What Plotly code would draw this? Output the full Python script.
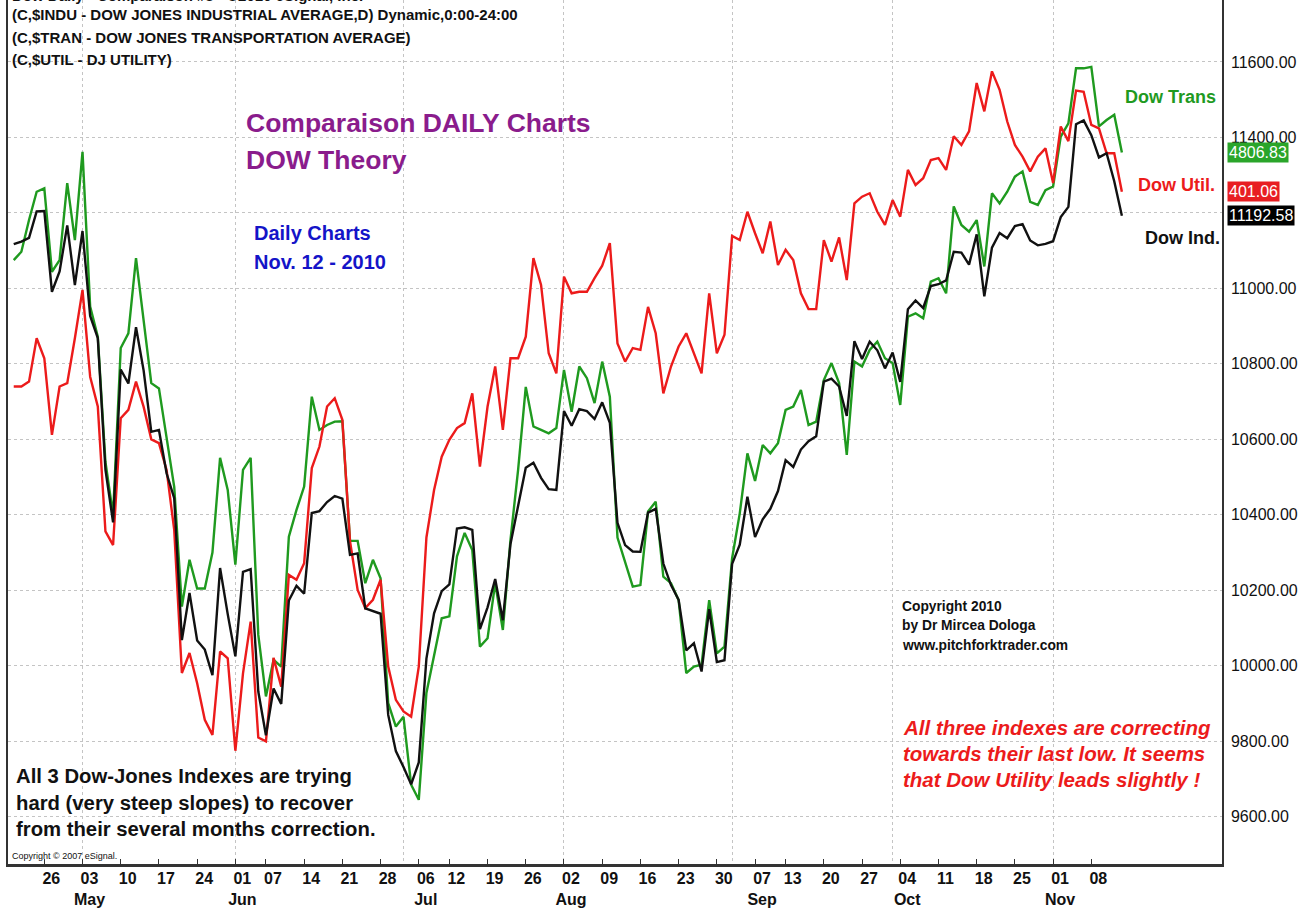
import plotly.graph_objects as go
import pandas as pd

# ─── COLOURS ──────────────────────────────────────────────────
INK = "#111111"
GREEN = "#1F9A1F"
RED = "#EC1B1B"
PURPLE = "#8A1C8C"
BLUE = "#1414C8"
GRID = "#C4C4C4"
FONT = "Liberation Sans, Arial, sans-serif"

# ─── DATA ─────────────────────────────────────────────────────
# NYSE sessions 20 Apr - 12 Nov 2010
HOLIDAYS = ["2010-05-31", "2010-07-05", "2010-09-06"]
SESSIONS = [d for d in pd.bdate_range("2010-04-20", "2010-11-12")
            if d.strftime("%Y-%m-%d") not in HOLIDAYS]

# closes, all on the $INDU price scale (comparison overlay)
DOW_IND = [
    11117, 11124, 11134, 11204, 11205, 10991, 11045, 11167, 11009, 11152,
    10927, 10868, 10520, 10380, 10785, 10748, 10897, 10782, 10620, 10625,
    10510, 10444, 10068, 10193, 10067, 10043, 9975, 10259, 10137, 10025,
    10249, 10256, 9932, 9816, 9940, 9899, 10173, 10212, 10191, 10405,
    10410, 10434, 10450, 10443, 10294, 10298, 10152, 10144, 10138, 9870,
    9774, 9732, 9686, 9744, 10019, 10139, 10198, 10216, 10364, 10367,
    10360, 10097, 10155, 10230, 10121, 10323, 10425, 10525, 10538, 10498,
    10468, 10466, 10675, 10636, 10680, 10675, 10654, 10698, 10644, 10379,
    10320, 10303, 10302, 10406, 10416, 10271, 10214, 10175, 10041, 10060,
    9985, 10150, 10010, 10015, 10270, 10321, 10448, 10341, 10388, 10416,
    10463, 10545, 10527, 10573, 10595, 10608, 10753, 10761, 10740, 10662,
    10860, 10813, 10859, 10836, 10788, 10830, 10752, 10945, 10968, 10948,
    11006, 11011, 11021, 11097, 11095, 11063, 11143, 10979, 11108, 11147,
    11133, 11165, 11170, 11127, 11114, 11118, 11125, 11189, 11216, 11435,
    11445, 11406, 11347, 11358, 11284, 11192.58,
]
DOW_TRANS = [
    11075, 11097, 11181, 11256, 11265, 11044, 11075, 11279, 11128, 11362,
    10952, 10872, 10540, 10400, 10842, 10881, 11080, 10917, 10749, 10735,
    10610, 10474, 10157, 10281, 10205, 10205, 10300, 10551, 10466, 10268,
    10519, 10551, 10082, 9919, 10016, 9998, 10342, 10413, 10475, 10713,
    10625, 10638, 10647, 10648, 10331, 10331, 10219, 10281, 10232, 9901,
    9839, 9865, 9685, 9645, 9928, 10024, 10126, 10131, 10290, 10352,
    10307, 10051, 10073, 10219, 10095, 10334, 10520, 10739, 10634, 10625,
    10616, 10630, 10784, 10673, 10793, 10762, 10696, 10806, 10713, 10340,
    10272, 10210, 10214, 10409, 10435, 10236, 10219, 10174, 9981, 9998,
    10003, 10174, 10033, 10051, 10285, 10404, 10563, 10490, 10585, 10563,
    10590, 10678, 10687, 10731, 10638, 10647, 10757, 10802, 10749, 10559,
    10806, 10793, 10837, 10859, 10815, 10802, 10691, 10925, 10934, 10921,
    11018, 11027, 10987, 11217, 11168, 11150, 11181, 11058, 11252, 11225,
    11256, 11296, 11310, 11229, 11221, 11260, 11270, 11402, 11437, 11583,
    11583, 11587, 11429, 11446, 11460, 11360,
]
DOW_UTIL = [
    10740, 10740, 10753, 10868, 10815, 10612, 10740, 10749, 10868, 10996,
    10766, 10687, 10356, 10320, 10656, 10678, 10753, 10686, 10600, 10590,
    10519, 10360, 9981, 10034, 9954, 9857, 9817, 10038, 10020, 9775,
    9980, 10117, 9810, 9800, 10021, 9945, 10241, 10228, 10272, 10524,
    10581, 10687, 10709, 10652, 10330, 10201, 10153, 10175, 10228, 9998,
    9910, 9879, 9865, 9998, 10340, 10466, 10554, 10599, 10630, 10643,
    10722, 10528, 10687, 10793, 10625, 10815, 10815, 10872, 11080, 11009,
    10828, 10775, 11031, 10987, 10991, 10991, 11027, 11060, 11120, 10854,
    10806, 10842, 10837, 10951, 10881, 10722, 10793, 10846, 10881, 10828,
    10775, 10987, 10828, 10877, 11139, 11128, 11203, 11146, 11093, 11177,
    11062, 11102, 11075, 10987, 10945, 10945, 11128, 11071, 11135, 11022,
    11225, 11243, 11252, 11203, 11168, 11234, 11190, 11314, 11274, 11292,
    11340, 11345, 11314, 11403, 11380, 11416, 11544, 11469, 11575, 11526,
    11442, 11380, 11349, 11310, 11349, 11371, 11279, 11429, 11390, 11524,
    11521, 11433, 11424, 11358, 11358, 11256,
]
# last quotes shown in the price-axis boxes
LAST_QUOTES = {"trans": "4806.83", "util": "401.06", "ind": "11192.58"}

TICK_DATES = [
    "2010-04-26", "2010-05-03", "2010-05-10", "2010-05-17", "2010-05-24",
    "2010-06-01", "2010-06-07", "2010-06-14", "2010-06-21", "2010-06-28",
    "2010-07-06", "2010-07-12", "2010-07-19", "2010-07-26", "2010-08-02",
    "2010-08-09", "2010-08-16", "2010-08-23", "2010-08-30", "2010-09-07",
    "2010-09-13", "2010-09-20", "2010-09-27", "2010-10-04", "2010-10-11",
    "2010-10-18", "2010-10-25", "2010-11-01", "2010-11-08",
]
MONTH_STARTS = ["2010-05-03", "2010-06-01", "2010-07-01", "2010-08-02",
                "2010-09-01", "2010-10-01", "2010-11-01"]
Y_TICKS = [9600, 9800, 10000, 10200, 10400, 10600, 10800, 11000, 11200, 11400, 11600]
Y_HIDDEN = [11200]   # label sits under the $INDU last-value box

# ─── AXIS HELPERS ─────────────────────────────────────────────
pos = {d.strftime("%Y-%m-%d"): i for i, d in enumerate(SESSIONS)}
x = list(range(len(SESSIONS)))

tickvals, ticktext = [], []
prev_month = "Apr"
for d in TICK_DATES:
    ts = pd.Timestamp(d)
    lab = f"{ts.day:02d}"
    mon = ts.strftime("%b")
    if mon != prev_month:
        lab += "<br>" + mon
        prev_month = mon
    tickvals.append(pos[d])
    ticktext.append(lab)
month_grid = [pos[d] for d in MONTH_STARTS]

W, H = 1314, 908
PL, PR, PT, PB = 8, 1222, 0, 864


def px(xp, yp):
    return (xp - PL) / (PR - PL), (PB - yp) / (PB - PT)


# ─── FIGURE ───────────────────────────────────────────────────
fig = go.Figure()
for series, color in [(DOW_TRANS, GREEN), (DOW_UTIL, RED), (DOW_IND, INK)]:
    fig.add_trace(go.Scatter(
        x=x, y=series, mode="lines",
        line=dict(color=color, width=2.4),
        showlegend=False, hoverinfo="skip",
    ))

annotations = []


def text(xp, yp, s, size, color=INK, bold=True, italic=False, anchor="left"):
    ax, ay = px(xp, yp)
    annotations.append(dict(
        x=ax, y=ay, xref="paper", yref="paper", text=s, showarrow=False,
        xanchor=anchor, yanchor="middle", align="left",
        font=dict(family=FONT, size=size, color=color,
                  weight="bold" if bold else "normal",
                  style="italic" if italic else "normal"),
    ))


# header lines (first one cut by the window top)
text(10, -5, "Dow Daily - Comparaison #3 - ©2010 eSignal, Inc.", 15)
text(10, 14, "(C,$INDU - DOW JONES INDUSTRIAL AVERAGE,D) Dynamic,0:00-24:00", 15)
text(10, 37, "(C,$TRAN - DOW JONES TRANSPORTATION AVERAGE)", 15)
text(10, 60, "(C,$UTIL - DJ UTILITY)", 15)

text(244, 123, "Comparaison DAILY Charts", 26.5, PURPLE)
text(244, 160, "DOW Theory", 26.5, PURPLE)
text(252, 233, "Daily Charts", 20, BLUE)
text(252, 262, "Nov. 12 - 2010", 20, BLUE)

text(1218, 97, "Dow Trans", 18, GREEN, anchor="right")
text(1217, 185, "Dow Util.", 18, RED, anchor="right")
text(1222, 238, "Dow Ind.", 18, INK, anchor="right")

for k, line in enumerate(["Copyright 2010", "by Dr Mircea Dologa", "www.pitchforktrader.com"]):
    text(900, 606 + 19.5 * k, line, 13.8)

for k, line in enumerate(["All three indexes are correcting",
                          "towards their last low. It seems",
                          "that Dow Utility leads slightly !"]):
    text(901, 727 + 26 * k, line, 20.5, RED, italic=True)

for k, line in enumerate(["All 3 Dow-Jones Indexes are trying",
                          "hard (very steep slopes) to recover",
                          "from their several months correction."]):
    text(14, 776 + 26.5 * k, line, 20.3)

text(10, 856, "Copyright © 2007 eSignal.", 9, bold=False)

# last-value boxes on the price axis
for key, series, bg in [("trans", DOW_TRANS, "#2AA52A"), ("util", DOW_UTIL, "#E81E22"),
                        ("ind", DOW_IND, "#000000")]:
    annotations.append(dict(
        x=1, y=series[-1], xref="paper", yref="y", text=LAST_QUOTES[key],
        showarrow=False, xanchor="left", yanchor="middle", xshift=5,
        bgcolor=bg, borderpad=1,
        font=dict(family=FONT, size=16, color="white"),
    ))

fig.update_layout(
    width=W, height=H,
    paper_bgcolor="white", plot_bgcolor="white",
    margin=dict(l=PL, r=W - PR, t=PT, b=H - PB, pad=0, autoexpand=False),
    font=dict(family=FONT, color=INK),
    annotations=annotations,
    xaxis=dict(
        range=[-0.75, 158.1], automargin=False,
        tickmode="array", tickvals=tickvals, ticktext=ticktext,
        tickfont=dict(family=FONT, size=16, color=INK, weight="bold"),
        ticks="inside", ticklen=5, tickcolor="#333333",
        ticklabelshift=7, ticklabelstandoff=-2,
        showgrid=False, zeroline=False,
        showline=True, linecolor="#333333", linewidth=3,
        minor=dict(tickmode="array", tickvals=month_grid, showgrid=True,
                   gridcolor=GRID, griddash="dot", gridwidth=1, ticks=""),
    ),
    yaxis=dict(
        side="right", range=[9475, 11764], automargin=False,
        tickmode="array", tickvals=Y_TICKS,
        ticktext=["" if v in Y_HIDDEN else f"{v:.2f}" for v in Y_TICKS],
        tickfont=dict(family=FONT, size=16, color=INK),
        ticks="", ticklabelstandoff=4,
        showgrid=True, gridcolor=GRID, griddash="dot", gridwidth=1,
        zeroline=False,
        showline=True, linecolor="#333333", linewidth=1.5, mirror=True,
    ),
)

# the page's default body margin would shift the chart by 8px
fig.write_html("out.html",
               config={"displayModeBar": False},
               post_script="document.body.style.margin='0';"
                           "document.body.style.overflow='hidden';")
